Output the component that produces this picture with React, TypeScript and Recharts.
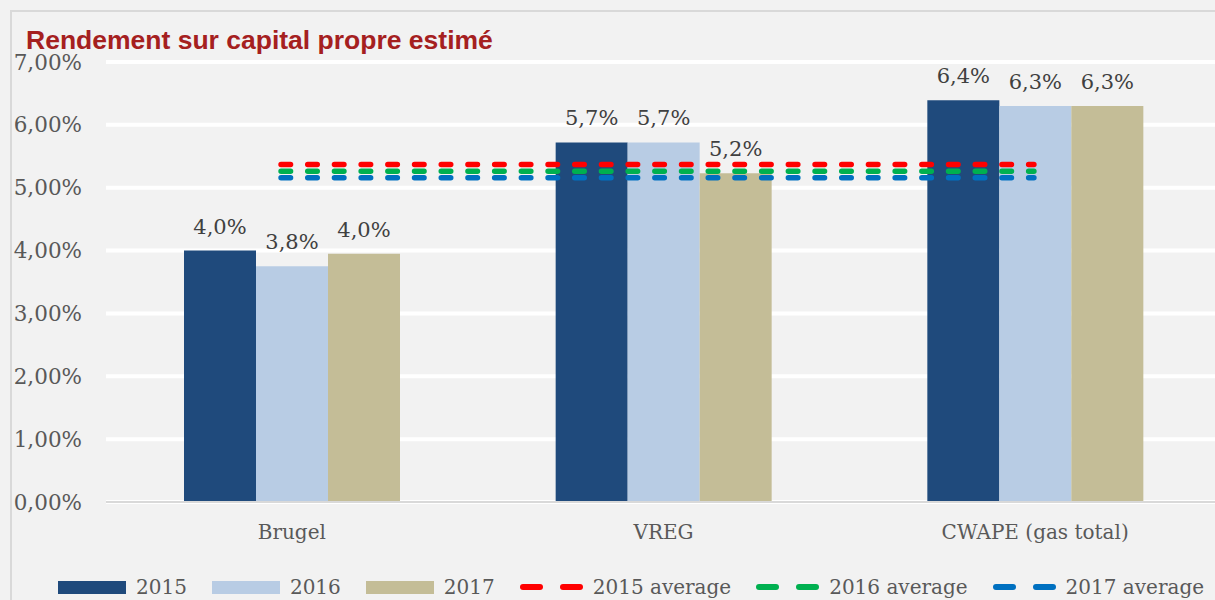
import React from 'react';
import { ComposedChart, Bar, Line, XAxis, YAxis, CartesianGrid, LabelList } from 'recharts';

// values (percent)
const categories = ['Brugel', 'VREG', 'CWAPE (gas total)'];
const rdt2015 = [4.0, 5.72, 6.39];
const rdt2016 = [3.75, 5.72, 6.3];
const rdt2017 = [3.95, 5.23, 6.3];
const avg2015 = [5.37, 5.37, 5.37];
const avg2016 = [5.26, 5.26, 5.26];
const avg2017 = [5.16, 5.16, 5.16];
const yTicks = [0, 1, 2, 3, 4, 5, 6, 7];

const colors = {
  b2015: '#1f4a7c',
  b2016: '#b8cce4',
  b2017: '#c4bd97',
  l2015: '#ff0000',
  l2016: '#00b050',
  l2017: '#0070c0',
};

const legendItems = [
  { label: '2015', color: colors.b2015, kind: 'bar' },
  { label: '2016', color: colors.b2016, kind: 'bar' },
  { label: '2017', color: colors.b2017, kind: 'bar' },
  { label: '2015 average', color: colors.l2015, kind: 'line' },
  { label: '2016 average', color: colors.l2016, kind: 'line' },
  { label: '2017 average', color: colors.l2017, kind: 'line' },
];

const data = categories.map((name, i) => ({
  name,
  idx: i,
  y2015: rdt2015[i],
  y2016: rdt2016[i],
  y2017: rdt2017[i],
  a2015: avg2015[i],
  a2016: avg2016[i],
  a2017: avg2017[i],
}));

const serif = '"DejaVu Serif", Georgia, serif';

const fmtTick = (v: number) => v.toFixed(2).replace('.', ',') + '%';
const fmtLabel = (v: any) => (Math.round(Number(v) * 10) / 10).toFixed(1).replace('.', ',') + '%';

const labelProps = {
  position: 'top' as const,
  offset: 17,
  formatter: fmtLabel,
  fill: '#404040',
  fontSize: 21,
  fontFamily: serif,
};

export default function App() {
  return (
    <div
      style={{
        position: 'absolute',
        left: 0,
        top: 0,
        width: 1215,
        height: 600,
        overflow: 'hidden',
        background: '#f2f2f2',
      }}
    >
      <div
        style={{
          position: 'absolute',
          left: 10,
          top: 10,
          right: -10,
          bottom: -10,
          border: '2px solid #d9d9d9',
        }}
      />
      <ComposedChart
        width={1221}
        height={600}
        data={data}
        margin={{ top: 62, right: 0, bottom: 0, left: 0 }}
        barCategoryGap={78}
        barGap={0}
      >
        <CartesianGrid xAxisId="cat" vertical={false} stroke="#ffffff" strokeWidth={4} />
        <XAxis
          xAxisId="cat"
          dataKey="name"
          height={98}
          interval={0}
          tickLine={false}
          tickSize={0}
          tickMargin={23}
          axisLine={{ stroke: '#d9d9d9', strokeWidth: 2 }}
          tick={{ fontSize: 20, fill: '#595959', fontFamily: serif }}
        />
        <XAxis
          xAxisId="num"
          type="number"
          dataKey="idx"
          domain={[-0.465, 2.497]}
          allowDataOverflow
          hide
        />
        <YAxis
          width={106}
          domain={[0, 7]}
          ticks={yTicks}
          axisLine={false}
          tickLine={false}
          tickSize={0}
          tickMargin={24}
          tickFormatter={fmtTick}
          tick={{ fontSize: 21.5, fill: '#595959', fontFamily: serif }}
        />
        <Bar xAxisId="cat" dataKey="y2015" fill={colors.b2015} isAnimationActive={false}>
          <LabelList dataKey="y2015" {...labelProps} />
        </Bar>
        <Bar xAxisId="cat" dataKey="y2016" fill={colors.b2016} isAnimationActive={false}>
          <LabelList dataKey="y2016" {...labelProps} />
        </Bar>
        <Bar xAxisId="cat" dataKey="y2017" fill={colors.b2017} isAnimationActive={false}>
          <LabelList dataKey="y2017" {...labelProps} />
        </Bar>
        {(['a2015', 'a2016', 'a2017'] as const).map((k, i) => (
          <Line
            key={k}
            xAxisId="num"
            type="linear"
            dataKey={k}
            stroke={[colors.l2015, colors.l2016, colors.l2017][i]}
            strokeWidth={5.5}
            strokeDasharray="9.5 17.2"
            strokeLinecap="round"
            dot={false}
            activeDot={false}
            isAnimationActive={false}
          />
        ))}
      </ComposedChart>
      <svg
        width={1215}
        height={600}
        style={{ position: 'absolute', left: 0, top: 0, pointerEvents: 'none' }}
      >
        <text
          x={26}
          y={49}
          fontFamily='"Liberation Sans", Arial, sans-serif'
          fontWeight="bold"
          fontSize={26.5}
          fill="#a5201f"
        >
          Rendement sur capital propre estimé
        </text>
      </svg>
      <div
        style={{
          position: 'absolute',
          left: 58,
          top: 576,
          height: 22,
          display: 'flex',
          alignItems: 'center',
          fontFamily: serif,
          fontSize: 20,
          color: '#595959',
          whiteSpace: 'nowrap',
        }}
      >
        {legendItems.map((it) => (
          <div key={it.label} style={{ display: 'flex', alignItems: 'center', marginRight: 25 }}>
            {it.kind === 'bar' ? (
              <div style={{ width: 68, height: 13, background: it.color }} />
            ) : (
              <svg width={63} height={6}>
                <rect x={0} y={0} width={23} height={6} rx={3} fill={it.color} />
                <rect x={40} y={0} width={23} height={6} rx={3} fill={it.color} />
              </svg>
            )}
            <span style={{ marginLeft: 10, lineHeight: '22px' }}>{it.label}</span>
          </div>
        ))}
      </div>
    </div>
  );
}
